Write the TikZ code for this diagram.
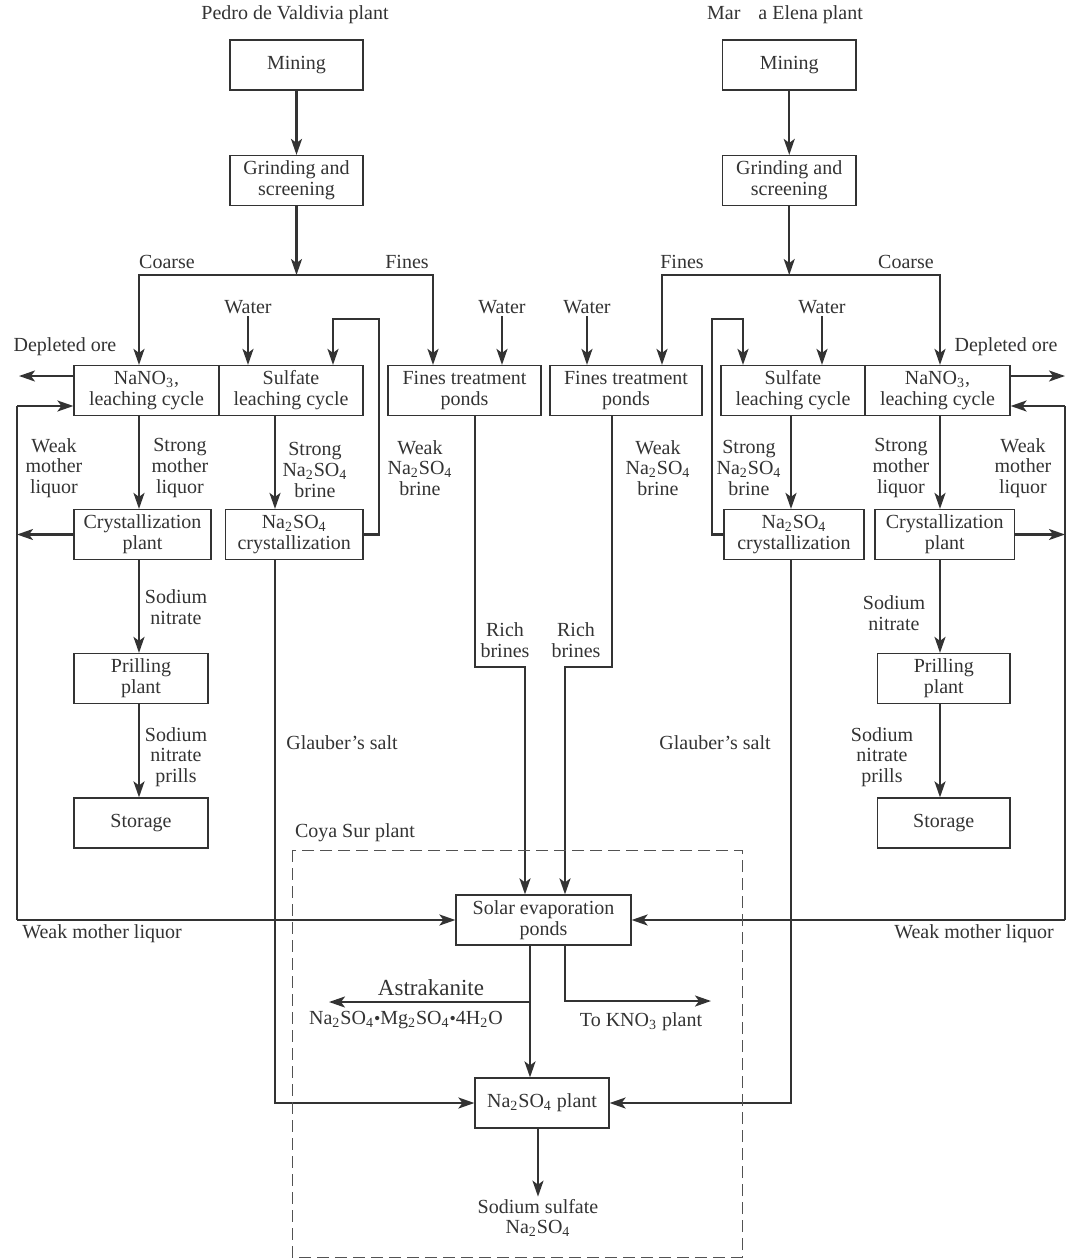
\documentclass[tikz,border=0pt]{standalone}
\usepackage{fontspec}
\setmainfont{Liberation Serif}
\usepackage{xcolor}
\usepackage{tikz}
\usetikzlibrary{arrows.meta}
\definecolor{ink}{HTML}{333333}

\begin{document}
\begin{tikzpicture}[x=0.5pt,y=-0.5pt,
        every node/.style={font=\fontsize{10}{10.4}\selectfont,text=ink,align=center,inner sep=1pt},
        box/.style={draw=ink,line width=0.6pt,minimum width=#1,minimum height=25pt,inner sep=0pt},
        flow/.style={draw=ink,line width=1.1pt,-{Stealth[length=8pt,width=5.5pt,inset=2pt]}},
        pipe/.style={draw=ink,line width=1.1pt},
        coya/.style={draw=ink!85,line width=0.5pt,dash pattern=on 6pt off 3pt}]
    \useasboundingbox (0,0) rectangle (1080,1259);

    \node (ttlL) at (295,15) {Pedro de Valdivia plant};
    \node (ttlR) at (785,15) {Mar\hspace{9pt}a Elena plant};

    \node[box=66.5pt] (mineL) at (296.5,65) {Mining};
    \node[box=66.5pt] (grindL) at (296.5,180.5) {Grinding and\\screening};
    \node[box=72.5pt] (nitL) at (146.5,390.5) {NaNO\textsubscript{3},\\leaching cycle};
    \node[box=72pt] (sulL) at (291,390.5) {Sulfate\\leaching cycle};
    \node[box=76.5pt] (finesL) at (464.5,390.5) {Fines treatment\\ponds};
    \node[box=68.5pt] (crysL) at (142.5,534.5) {Crystallization\\plant};
    \node[box=68.75pt] (nacrL) at (294.25,534.5) {Na\textsubscript{2}SO\textsubscript{4}\\crystallization};
    \node[box=67pt] (prilL) at (141,678.5) {Prilling\\plant};
    \node[box=67pt] (storL) at (141,823) {Storage};

    \node[box=66.75pt] (mineR) at (789.25,65) {Mining};
    \node[box=66.75pt] (grindR) at (789.25,180.5) {Grinding and\\screening};
    \node[box=76pt] (finesR) at (626,390.5) {Fines treatment\\ponds};
    \node[box=72pt] (sulR) at (793,390.5) {Sulfate\\leaching cycle};
    \node[box=72.5pt] (nitR) at (937.5,390.5) {NaNO\textsubscript{3},\\leaching cycle};
    \node[box=70pt] (nacrR) at (794,534.5) {Na\textsubscript{2}SO\textsubscript{4}\\crystallization};
    \node[box=69.75pt] (crysR) at (944.75,534.5) {Crystallization\\plant};
    \node[box=66.25pt] (prilR) at (943.75,678.5) {Prilling\\plant};
    \node[box=66.25pt] (storR) at (943.75,823) {Storage};

    \node[box=87.5pt] (solar) at (543.5,920) {Solar evaporation\\ponds};
    \node[box=67pt] (naplant) at (542,1103) {Na\textsubscript{2}SO\textsubscript{4} plant};
    \node (prod) at (538,1218) {Sodium sulfate\\Na\textsubscript{2}SO\textsubscript{4}};

    \node (tCoarseL) at (167,262) {Coarse};
    \node (tFinesL) at (407,262) {Fines};
    \node (tWtrL1) at (248,307) {Water};
    \node (tWtrL2) at (502,307) {Water};
    \node (tDepL) at (65,347) {Depleted ore};
    \node (tWeakL) at (54,468) {Weak\\mother\\liquor};
    \node (tStrL) at (180,468) {Strong\\mother\\liquor};
    \node (tStrNaL) at (315,470) {Strong\\Na\textsubscript{2}SO\textsubscript{4}\\brine};
    \node (tWeakNaL) at (420,468) {Weak\\Na\textsubscript{2}SO\textsubscript{4}\\brine};
    \node (tRichL) at (505,640) {Rich\\brines};
    \node (tNitL) at (176,607) {Sodium\\nitrate};
    \node (tPrillsL) at (176,757) {Sodium\\nitrate\\prills};
    \node (tGlauL) at (342,743) {Glauber's salt};
    \node (tWmlL) at (102,934) {Weak mother liquor};

    \node (tFinesR) at (682,262) {Fines};
    \node (tCoarseR) at (906,262) {Coarse};
    \node (tWtrR1) at (587,307) {Water};
    \node (tWtrR2) at (822,307) {Water};
    \node (tDepR) at (1006,347) {Depleted ore};
    \node (tWeakNaR) at (658,468) {Weak\\Na\textsubscript{2}SO\textsubscript{4}\\brine};
    \node (tStrNaR) at (749,468) {Strong\\Na\textsubscript{2}SO\textsubscript{4}\\brine};
    \node (tStrR) at (901,468) {Strong\\mother\\liquor};
    \node (tWeakR) at (1023,468) {Weak\\mother\\liquor};
    \node (tRichR) at (576,640) {Rich\\brines};
    \node (tNitR) at (894,613) {Sodium\\nitrate};
    \node (tPrillsR) at (882,757) {Sodium\\nitrate\\prills};
    \node (tGlauR) at (715,743) {Glauber's salt};
    \node (tWmlR) at (974,934) {Weak mother liquor};

    \node (tCoya) at (355,833) {Coya Sur plant};
    \node[font=\fontsize{11.5}{13}\selectfont] (tAstr) at (431,988) {Astrakanite};
    \node (tFormula) at (406,1020) {Na\textsubscript{2}SO\textsubscript{4}{\small\textbullet}Mg\textsubscript{2}SO\textsubscript{4}{\small\textbullet}4H\textsubscript{2}O};
    \node (tKno) at (641,1022) {To KNO\textsubscript{3} plant};

    \coordinate (sL) at (296.5,275);
    \coordinate (cL) at (139,0);
    \coordinate (fL) at (433,0);
    \coordinate (gL) at (275,0);
    \coordinate (lpL1) at (379,319);
    \coordinate (lpL2) at (333,319);
    \coordinate (dpL) at (19,376);
    \coordinate (wmL1) at (17,406);
    \coordinate (wmL2) at (17,920);
    \coordinate (rbL1) at (475,667);
    \coordinate (rbL2) at (525,667);

    \coordinate (sR) at (789.25,275);
    \coordinate (cR) at (940,0);
    \coordinate (fR) at (662,0);
    \coordinate (gR) at (791,0);
    \coordinate (lpR1) at (712,319);
    \coordinate (lpR2) at (743,319);
    \coordinate (dpR) at (1065,376);
    \coordinate (wmR1) at (1065,406);
    \coordinate (wmR2) at (1065,920);
    \coordinate (rbR1) at (612,667);
    \coordinate (rbR2) at (565,667);

    \coordinate (astr) at (530,1002);
    \coordinate (astrEnd) at (329,1002);
    \coordinate (kno) at (565,1001);
    \coordinate (knoEnd) at (711,1001);

    \draw[flow] (mineL) -- (grindL);
    \draw[flow] (grindL) -- (sL);
    \draw[flow] (sL) -| (nitL.north -| cL);
    \draw[flow] (sL) -| (finesL.north -| fL);
    \draw[flow] (tWtrL1) -- (tWtrL1 |- sulL.north);
    \draw[flow] (tWtrL2) -- (tWtrL2 |- finesL.north);
    \draw[flow] (nacrL.east) -| (lpL1) -- (lpL2) -- (lpL2 |- sulL.north);
    \draw[flow] (dpL -| nitL.west) -- (dpL);
    \draw[pipe] (wmL1) -- (wmL2);
    \draw[flow] (wmL1) -- (wmL1 -| nitL.west);
    \draw[flow] (crysL.west) -- (crysL.west -| wmL1);
    \draw[flow] (wmL2) -- (solar.west);
    \draw[flow] (nitL.south -| cL) -- (crysL.north -| cL);
    \draw[flow] (crysL.south -| cL) -- (prilL.north -| cL);
    \draw[flow] (prilL.south -| cL) -- (storL.north -| cL);
    \draw[flow] (sulL.south -| gL) -- (nacrL.north -| gL);
    \draw[flow] (nacrL.south -| gL) |- (naplant.west);
    \draw[flow] (finesL.south -| rbL1) -- (rbL1) -- (rbL2) -- (solar.north -| rbL2);

    \draw[flow] (mineR) -- (grindR);
    \draw[flow] (grindR) -- (sR);
    \draw[flow] (sR) -| (nitR.north -| cR);
    \draw[flow] (sR) -| (finesR.north -| fR);
    \draw[flow] (tWtrR1) -- (tWtrR1 |- finesR.north);
    \draw[flow] (tWtrR2) -- (tWtrR2 |- sulR.north);
    \draw[flow] (nacrR.west) -| (lpR1) -- (lpR2) -- (lpR2 |- sulR.north);
    \draw[flow] (dpR -| nitR.east) -- (dpR);
    \draw[pipe] (wmR1) -- (wmR2);
    \draw[flow] (wmR1) -- (wmR1 -| nitR.east);
    \draw[flow] (crysR.east) -- (crysR.east -| wmR1);
    \draw[flow] (wmR2) -- (solar.east);
    \draw[flow] (nitR.south -| cR) -- (crysR.north -| cR);
    \draw[flow] (crysR.south -| cR) -- (prilR.north -| cR);
    \draw[flow] (prilR.south -| cR) -- (storR.north -| cR);
    \draw[flow] (sulR.south -| gR) -- (nacrR.north -| gR);
    \draw[flow] (nacrR.south -| gR) |- (naplant.east);
    \draw[flow] (finesR.south -| rbR1) -- (rbR1) -- (rbR2) -- (solar.north -| rbR2);

    \draw[flow] (solar.south -| astr) -- (naplant.north -| astr);
    \draw[flow] (astr) -- (astrEnd);
    \draw[flow] (solar.south -| kno) -- (kno) -- (knoEnd);
    \draw[flow] (naplant.south -| prod) -- (prod);
    \draw[coya] (292,850) rectangle (742,1257);
\end{tikzpicture}
\end{document}
